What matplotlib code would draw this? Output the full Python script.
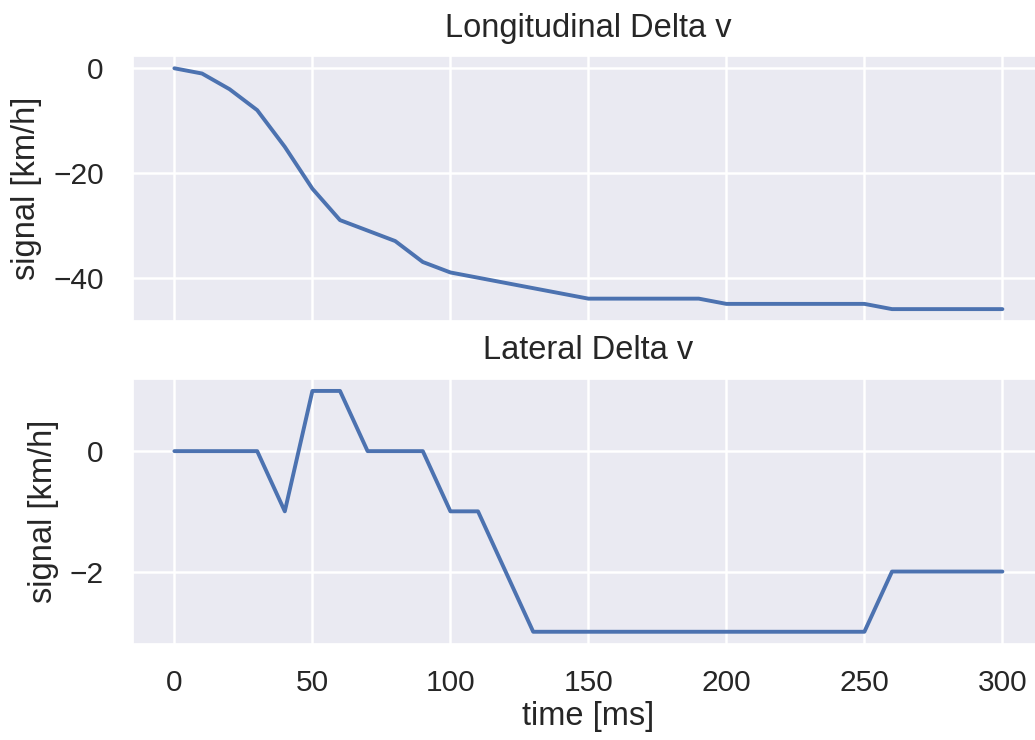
#!/usr/bin/env python3

import matplotlib
matplotlib.use("Agg")
import matplotlib.pyplot as plt
from matplotlib.ticker import MultipleLocator
import seaborn as sns

# time axis in ms, one sample every 10 ms
time_ms = [0, 10, 20, 30, 40, 50, 60, 70, 80, 90, 100,
           110, 120, 130, 140, 150, 160, 170, 180, 190, 200,
           210, 220, 230, 240, 250, 260, 270, 280, 290, 300]

# longitudinal delta v [km/h]
long_dv = [0, -1, -4, -8, -15, -23, -29, -31, -33, -37, -39,
           -40, -41, -42, -43, -44, -44, -44, -44, -44, -45,
           -45, -45, -45, -45, -45, -46, -46, -46, -46, -46]

# lateral delta v [km/h]
lat_dv = [0, 0, 0, 0, -1, 1, 1, 0, 0, 0, -1,
          -1, -2, -3, -3, -3, -3, -3, -3, -3, -3,
          -3, -3, -3, -3, -3, -2, -2, -2, -2, -2]

sns.set_theme(style="darkgrid")
plt.rcParams["font.family"] = ["Liberation Sans", "DejaVu Sans"]

fig = plt.figure(figsize=(10.35, 7.4), dpi=100)
ax1 = fig.add_axes([0.1285, 0.566, 0.880, 0.358])
ax2 = fig.add_axes([0.1285, 0.130, 0.880, 0.358], sharex=ax1)

color = "#4C72B0"
for ax, y, title in [(ax1, long_dv, "Longitudinal Delta v"),
                     (ax2, lat_dv, "Lateral Delta v")]:
    ax.plot(time_ms, y, color=color, linewidth=2.8)
    ax.set_title(title, fontsize=23.5, pad=14, color="#262626")
    ax.set_ylabel("signal [km/h]", fontsize=23.5, labelpad=8)
    ax.tick_params(axis="y", labelsize=21.5, pad=15)
    ax.tick_params(axis="x", labelsize=21.5, pad=12)
    ax.grid(True, color="white", linewidth=1.8)

ax1.yaxis.set_major_locator(MultipleLocator(20))
ax2.yaxis.set_major_locator(MultipleLocator(2))
ax1.xaxis.set_major_locator(MultipleLocator(50))
plt.setp(ax1.get_xticklabels(), visible=False)
ax2.set_xlabel("time [ms]", fontsize=23.5, labelpad=3)

fig.savefig("out.png", dpi=100)
